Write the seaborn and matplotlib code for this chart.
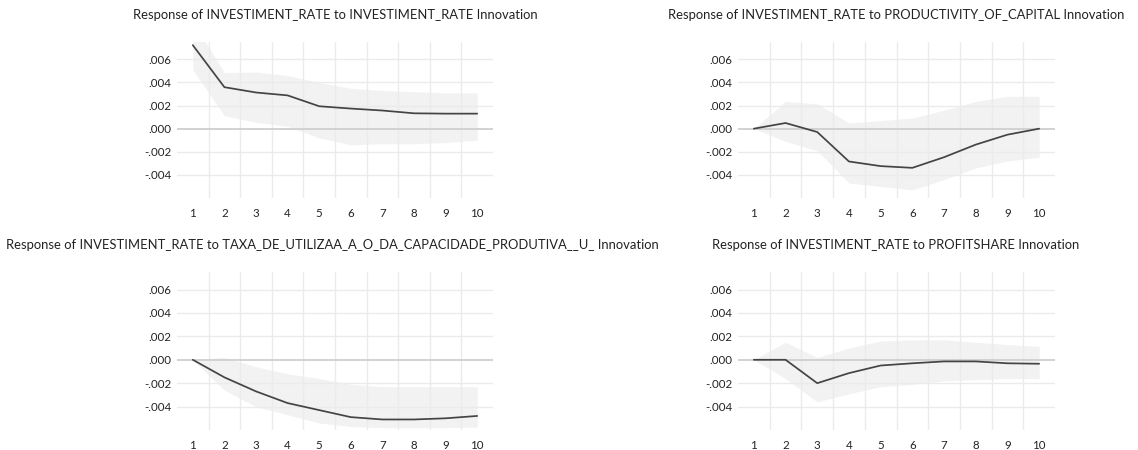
import numpy as np
import pandas as pd
import matplotlib
matplotlib.use("Agg")
import matplotlib.pyplot as plt
import seaborn as sns
from matplotlib.ticker import FuncFormatter, FixedLocator

periods = [1, 2, 3, 4, 5, 6, 7, 8, 9, 10]

titles = [
    "Response of INVESTIMENT_RATE to INVESTIMENT_RATE Innovation",
    "Response of INVESTIMENT_RATE to PRODUCTIVITY_OF_CAPITAL Innovation",
    "Response of INVESTIMENT_RATE to TAXA_DE_UTILIZAA_A_O_DA_CAPACIDADE_PRODUTIVA__U_ Innovation",
    "Response of INVESTIMENT_RATE to PROFITSHARE Innovation",
]

resp_inv = [0.00723, 0.00359, 0.00313, 0.00288, 0.00194, 0.00174, 0.00157, 0.00133, 0.00130, 0.00130]
upper_inv = [0.0093, 0.00485, 0.0049, 0.0046, 0.0040, 0.0035, 0.0033, 0.0032, 0.0031, 0.0031]
lower_inv = [0.0051, 0.00112, 0.00055, 0.0002, -0.0008, -0.0014, -0.0013, -0.0013, -0.0012, -0.0010]

resp_prod = [0.0, 0.00049, -0.00029, -0.00284, -0.00324, -0.00339, -0.00247, -0.00138, -0.00052, 0.0]
upper_prod = [0.0, 0.00235, 0.00215, 0.00049, 0.0007, 0.00092, 0.0016, 0.00235, 0.0028, 0.0028]
lower_prod = [0.0, -0.0011, -0.0019, -0.0047, -0.0050, -0.0053, -0.0044, -0.0034, -0.0028, -0.00247]

resp_taxa = [0.0, -0.0015, -0.0027, -0.0037, -0.0043, -0.0049, -0.0051, -0.0051, -0.0050, -0.0048]
upper_taxa = [0.0, 0.0002, -0.0006, -0.0012, -0.0016, -0.0021, -0.0023, -0.0023, -0.0023, -0.0023]
lower_taxa = [0.0, -0.0026, -0.0040, -0.0047, -0.0054, -0.0057, -0.0058, -0.0058, -0.0058, -0.00575]

resp_prof = [0.0, 0.0, -0.0020, -0.00114, -0.00049, -0.0003, -0.00014, -0.00014, -0.0003, -0.00034]
upper_prof = [0.0, 0.0015, 0.0002, 0.0010, 0.0016, 0.0017, 0.0017, 0.0015, 0.0013, 0.00115]
lower_prof = [0.0, -0.0016, -0.0036, -0.0029, -0.0023, -0.0021, -0.0018, -0.0017, -0.0016, -0.0016]

y_ticks = [-0.004, -0.002, 0.0, 0.002, 0.004, 0.006]

sns.set_theme(style="white")
plt.rcParams["font.family"] = ["Lato", "DejaVu Sans"]

W, H = 1138, 450
fig = plt.figure(figsize=(W / 100, H / 100), dpi=100)

boxes = [  # left, top, right, bottom in pixels
    (177, 42, 493, 198),
    (738, 42, 1055, 198),
    (177, 272, 493, 430),
    (738, 272, 1055, 430),
]
series = [
    (resp_inv, upper_inv, lower_inv),
    (resp_prod, upper_prod, lower_prod),
    (resp_taxa, upper_taxa, lower_taxa),
    (resp_prof, upper_prof, lower_prof),
]
title_y = [15, 15, 245, 245]
title_x = [335, 896, 332, 896]

fmt = FuncFormatter(lambda v, p: f"{v:.3f}".replace("0.", "."))

for (l, t, r, b), (resp, up, lo), title, ty, tx in zip(boxes, series, titles, title_y, title_x):
    ax = fig.add_axes([l / W, 1 - b / H, (r - l) / W, (b - t) / H])
    df = pd.DataFrame({"period": periods, "response": resp})
    ax.fill_between(periods, lo, up, color="#f2f2f2", linewidth=0, zorder=1)
    for yv in y_ticks:
        if yv == 0.0:
            continue
        ax.axhline(yv, color="#ebebeb", linewidth=1.0, zorder=2)
    for xv in np.arange(1.5, 10.5, 1.0):
        ax.axvline(xv, color="#ebebeb", linewidth=1.0, zorder=2)
    ax.axhline(0.0, color="#cfcfcf", linewidth=1.3, zorder=2)
    sns.lineplot(data=df, x="period", y="response", ax=ax, color="#444444",
                 linewidth=1.25, zorder=3)
    ax.set_xlim(0.5, 10.5)
    ax.set_ylim(-0.006, 0.0075)
    ax.xaxis.set_major_locator(FixedLocator(periods))
    ax.yaxis.set_major_locator(FixedLocator(y_ticks))
    ax.yaxis.set_major_formatter(fmt)
    ax.set_xticklabels([str(p) for p in periods])
    ax.set_xlabel("")
    ax.set_ylabel("")
    ax.grid(False)
    for s in ax.spines.values():
        s.set_visible(False)
    ax.tick_params(axis="both", length=0, labelsize=8.3, colors="#222222")
    ax.tick_params(axis="x", pad=7)
    ax.tick_params(axis="y", pad=4)
    ax.set_facecolor("white")
    fig.text(tx / W, 1 - ty / H, title, ha="center", va="center",
             fontsize=9.4, color="#222222")

fig.savefig("out.png", dpi=100, facecolor="white")
